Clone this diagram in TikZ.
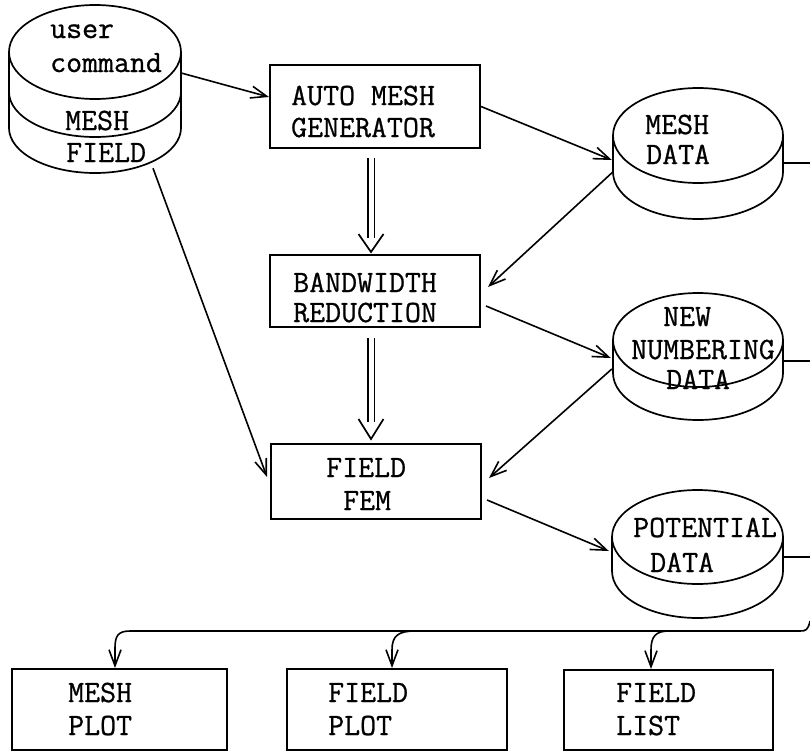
\documentclass[tikz,border=0pt]{standalone}
\usepackage{fontspec}
\newfontfamily\twfont{Latin Modern Mono}[FakeBold=0.8]
\usetikzlibrary{arrows.meta}
\begin{document}
\begin{tikzpicture}[x=1pt,y=1pt,
  lw/.style={line width=1.7pt},
  boxs/.style={draw, line width=2pt, inner sep=0pt},
  area/.style={inner sep=0pt},
  txt/.style={anchor=base west, inner sep=0pt, font=\fontsize{31}{32}\selectfont\twfont},
  arr/.style={line width=1.6pt, -{Straight Barb[length=16pt,width=12pt,line width=1.6pt]}},
  dbl/.style={line width=1.5pt, double, double distance=5pt}]
\useasboundingbox (0,0) rectangle (810,-752);
\fill[white] (0,0) rectangle (810,-752);

% ---- disks (shapes) ----
\begin{scope}[lw]
% user command / MESH FIELD
\draw (9,-52) -- (9,-128) arc[start angle=180,end angle=360,x radius=86,y radius=45] -- (181,-52);
\draw (95,-52) ellipse[x radius=86,y radius=47];
\draw (9,-92) arc[start angle=180,end angle=360,x radius=86,y radius=45];
% MESH DATA
\draw (613,-135.5) -- (613,-172) arc[start angle=180,end angle=360,x radius=85,y radius=47] -- (783,-135.5);
\draw (698,-135.5) ellipse[x radius=85,y radius=47.5];
% NEW NUMBERING DATA
\draw (613,-340) -- (613,-373) arc[start angle=180,end angle=360,x radius=85,y radius=47] -- (783,-340);
\draw (698,-340) ellipse[x radius=85,y radius=47];
% POTENTIAL DATA
\draw (612,-537) -- (612,-571) arc[start angle=180,end angle=360,x radius=85.5,y radius=47] -- (783,-537);
\draw (697.5,-537) ellipse[x radius=85.5,y radius=47];
\end{scope}

% ---- disk areas (named) ----
\node[area, minimum width=172pt, minimum height=168pt] (uc) at (95,-89) {};
\node[area, minimum width=170pt, minimum height=131pt] (md) at (698,-153.5) {};
\node[area, minimum width=170pt, minimum height=127pt] (nn) at (698,-356.5) {};
\node[area, minimum width=171pt, minimum height=128pt] (pd) at (697.5,-554) {};

% ---- boxes ----
\node[boxs, minimum width=210pt, minimum height=83pt] (b1) at (375,-106.5) {};
\node[boxs, minimum width=210pt, minimum height=72pt] (b2) at (375,-291) {};
\node[boxs, minimum width=210pt, minimum height=75pt] (b3) at (376,-481.5) {};
\node[boxs, minimum width=215pt, minimum height=81pt] (p1) at (119.5,-709.5) {};
\node[boxs, minimum width=220pt, minimum height=81pt] (p2) at (397,-709.5) {};
\node[boxs, minimum width=209pt, minimum height=80pt] (p3) at (668.5,-710) {};

% ---- texts ----
\node[txt] (t1) at (50,-38) {user};
\node[txt] (t2) at (50,-72) {command};
\node[txt] (t3) at (65,-130) {MESH};
\node[txt] (t4) at (66,-162) {FIELD};
\node[txt] (t5) at (291,-105) {AUTO MESH};
\node[txt] (t6) at (291,-137) {GENERATOR};
\node[txt] (t7) at (645,-134) {MESH};
\node[txt] (t8) at (646,-164) {DATA};
\node[txt] (t9) at (293,-292) {BANDWIDTH};
\node[txt] (t10) at (293,-322) {REDUCTION};
\node[txt] (t11) at (663,-326) {NEW};
\node[txt] (t12) at (631,-359) {NUMBERING};
\node[txt] (t13) at (666,-389) {DATA};
\node[txt] (t14) at (326,-477) {FIELD};
\node[txt] (t15) at (343,-510) {FEM};
\node[txt] (t16) at (633,-537) {POTENTIAL};
\node[txt] (t17) at (650,-572) {DATA};
\node[txt] (t18) at (68,-702) {MESH};
\node[txt] (t19) at (68,-735) {PLOT};
\node[txt] (t20) at (328,-702) {FIELD};
\node[txt] (t21) at (328,-735) {PLOT};
\node[txt] (t22) at (616,-702) {FIELD};
\node[txt] (t23) at (616,-735) {LIST};

% ---- arrows ----
\draw[arr] ([yshift=16]uc.east) -- ([yshift=9.5]b1.west);
\draw[arr] (b1.east) -- ([xshift=-1,yshift=-6.5]md.west);
\draw[arr] ([yshift=-18.5]md.west) -- ([xshift=7,yshift=4]b2.east);
\draw[arr] ([xshift=5,yshift=-15]b2.east) -- ([xshift=-2,yshift=-1.5]nn.west);
\draw[arr] ([xshift=-1,yshift=-12.5]nn.west) -- ([xshift=7,yshift=3.5]b3.east);
\draw[arr] ([xshift=5,yshift=-18.5]b3.east) -- ([xshift=-3,yshift=3]pd.west);
\draw[arr] ([xshift=58,yshift=5]uc.south) -- ([xshift=-3,yshift=4.5]b3.west);

% ---- double arrows ----
\draw[dbl] ([xshift=-4,yshift=-9]b1.south) -- ([xshift=-4,yshift=16]b2.north);
\draw[lw] ([xshift=-16.5,yshift=20]b2.north) -- ([xshift=-4,yshift=2]b2.north) -- ([xshift=8.5,yshift=20]b2.north);
\draw[dbl] ([xshift=-4,yshift=-10]b2.south) -- ([xshift=-5,yshift=21]b3.north);
\draw[lw] ([xshift=-17.5,yshift=24]b3.north) -- ([xshift=-5,yshift=4]b3.north) -- ([xshift=7.5,yshift=24]b3.north);

% ---- lines to the right edge ----
\coordinate (e1) at (810,-163);
\coordinate (e2) at (810,-361);
\coordinate (e3) at (810,-557);
\draw[lw] ([yshift=-9.5]md.east) -- (e1);
\draw[lw] ([yshift=-4.5]nn.east) -- (e2);
\draw[lw] ([yshift=-3]pd.east) -- (e3);

% ---- bottom bus ----
\coordinate (busR) at (810,-621);
\coordinate (j1) at (415,-631);
\coordinate (j2) at (669,-631);
\draw[arr] (busR) .. controls (808,-630) and (806,-631) .. (800,-631) -- (130,-631)
  .. controls (118,-631) and (115,-636) .. (115,-648) -- ([xshift=-4.5]p1.north);
\draw[arr] (j1) .. controls (398,-631) and (392,-636) .. (392,-650) -- ([xshift=-5]p2.north);
\draw[arr] (j2) .. controls (656,-631) and (651,-636) .. (651,-650) -- ([xshift=-17.5]p3.north);
\end{tikzpicture}
\end{document}
